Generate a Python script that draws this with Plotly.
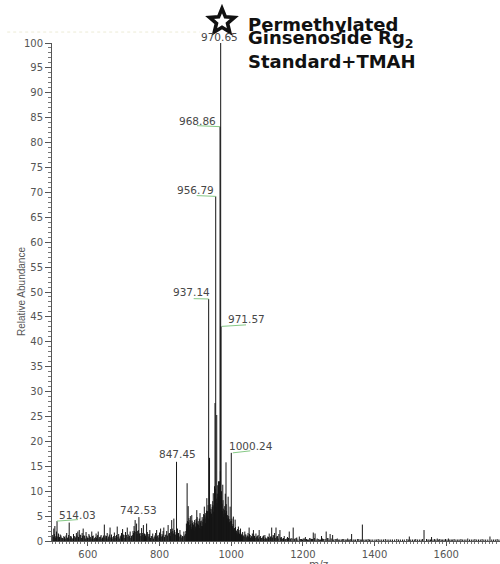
import math
import plotly.graph_objects as go

# ---------------- data ----------------
# main peaks
MZ = [
    502, 505, 508, 511, 514.03, 518, 521, 525, 529, 533, 537, 541, 545, 548, 552, 556, 560, 564, 568,
    572, 576, 580, 584, 587, 591, 595, 599, 603, 607, 611, 615, 619, 623, 626, 629, 633, 637, 641, 646,
    650, 654, 658, 662, 666, 670, 674, 678, 682, 686, 690, 694, 697, 701, 705, 710, 714, 718, 722, 726,
    729, 732, 736, 739, 742.53, 746, 750, 755, 758, 761, 764, 768, 773, 777, 781, 785, 789, 792, 796,
    800, 803, 807, 810, 812, 816, 820, 824, 828, 831, 834, 837, 840, 843, 847.45, 850, 853, 857, 860,
    864, 868, 872,
    875, 877, 880, 882, 884, 886, 888, 890, 892, 894, 896, 898, 900, 902, 904, 906, 908, 910, 913, 915,
    917, 919, 921, 923, 925, 927, 929, 932, 934, 935.5, 937.14, 939.5, 941, 943, 945, 947, 948.5, 950,
    952, 953.5, 954.8, 956.79, 958, 959.6, 961, 962.5, 964.5, 966, 967.5, 968.86, 970.65, 971.57, 973,
    974.5, 976.5, 978, 980, 982, 983.5, 985.5, 987, 989, 991.5, 993, 995, 997, 998.5, 1000.24, 1002,
    1004, 1006, 1008,
    1011, 1013, 1016, 1018, 1020, 1023, 1026, 1029, 1032, 1035, 1038, 1041, 1044, 1047, 1050, 1053,
    1056, 1059, 1062, 1065, 1069, 1072, 1075, 1078, 1082, 1086, 1090, 1094, 1098, 1102, 1106, 1110,
    1113, 1117, 1121, 1125, 1129, 1133, 1136, 1140, 1144, 1148, 1152, 1157, 1162, 1167, 1173, 1178,
    1183, 1190, 1196, 1201, 1207, 1213, 1219, 1224, 1229, 1234, 1240, 1246, 1252, 1258, 1265, 1270,
    1276, 1283, 1290, 1296, 1303, 1310, 1318, 1325, 1331, 1336, 1343, 1352, 1360, 1366, 1374, 1382,
    1390, 1401, 1410, 1420, 1430, 1440, 1450, 1462, 1472, 1483, 1490, 1497, 1506, 1515, 1525, 1538,
    1545, 1552, 1559, 1567, 1575, 1582, 1590, 1598, 1606, 1614, 1622, 1632, 1641, 1650, 1660, 1670,
    1680, 1690, 1700, 1710, 1722, 1732, 1742,
]
INTENSITY = [
    1.2, 2.5, 3.0, 1.0, 4.0, 1.5, 0.8, 1.1, 0.6, 1.0, 0.5, 1.6, 0.8, 3.7, 1.0, 0.6, 1.4, 0.9, 1.6,
    1.9, 2.2, 1.2, 1.6, 2.5, 1.0, 1.8, 0.7, 1.4, 0.8, 1.9, 1.1, 0.6, 1.5, 1.0, 1.9, 0.8, 1.2, 0.7, 3.3,
    1.1, 1.6, 0.9, 2.7, 1.3, 0.8, 1.7, 1.0, 2.9, 1.4, 0.9, 1.6, 2.4, 1.2, 1.8, 2.7, 1.3, 1.9, 1.0, 2.0,
    3.0, 4.2, 3.5, 2.0, 4.8, 1.6, 2.6, 3.2, 1.5, 1.1, 3.5, 1.4, 2.2, 1.0, 1.5, 0.8, 1.6, 2.2, 1.2,
    1.7, 2.5, 1.4, 2.0, 2.7, 1.2, 2.0, 3.2, 1.6, 2.4, 4.2, 2.0, 4.5, 1.8, 15.9, 2.5, 1.6, 2.2, 1.2,
    1.0, 1.9, 1.4,
    3.5, 11.6, 7.0, 4.6, 3.2, 5.0, 2.8, 5.2, 3.6, 2.6, 3.8, 4.2, 2.9, 4.4, 6.2, 3.5, 4.0, 3.1, 5.6, 4.0,
    3.0, 4.8, 3.8, 5.4, 6.9, 4.5, 5.6, 8.6, 6.0, 7.2, 48.6, 16.7, 6.5, 7.4, 5.5, 6.8, 8.0, 9.6,
    7.0, 11.0, 27.7, 69.2, 8.5, 25.3, 9.5, 11.2, 12.0, 9.0, 12.0, 83.2, 100.0, 43.1, 10.0,
    7.5, 11.3, 6.5, 5.5, 7.0, 9.5, 15.8, 6.0, 4.5, 8.9, 5.0, 3.8, 6.9, 4.0, 17.7, 4.5,
    3.0, 4.9, 2.5,
    4.3, 2.0, 1.5, 2.4, 2.9, 1.4, 2.5, 1.2, 1.8, 1.0, 1.9, 1.3, 0.9, 1.6, 2.7, 1.2,
    0.8, 1.5, 2.2, 1.0, 1.5, 0.7, 1.2, 2.2, 1.0, 0.6, 1.1, 1.2, 0.5, 0.9, 1.5, 0.8,
    2.7, 1.2, 1.6, 2.7, 1.0, 1.4, 2.2, 0.8, 0.5, 1.0, 0.4, 0.8, 1.9, 0.6, 2.7, 0.5,
    0.7, 0.9, 0.4, 0.5, 0.8, 0.3, 0.6, 0.4, 1.7, 1.5, 0.5, 0.3, 1.0, 0.4, 1.9, 0.6,
    1.4, 1.2, 0.4, 0.5, 0.3, 0.4, 0.3, 0.5, 0.3, 1.4, 0.3, 0.4, 0.3, 3.3, 0.3, 0.4,
    0.3, 0.3, 0.4, 0.3, 0.4, 0.3, 0.3, 0.4, 0.3, 0.3, 0.4, 0.9, 0.3, 0.4, 0.3, 2.2,
    0.4, 0.3, 0.8, 0.4, 0.5, 0.4, 0.3, 0.4, 0.5, 0.3, 0.4, 0.3, 0.4, 0.3, 0.5, 0.3,
    0.4, 0.3, 0.4, 0.3, 0.9, 0.3, 0.4,
]
# smaller peaks that fill the dense baseline
MZ_MINOR = [
    503.5, 506.5, 509.5, 512.5, 516, 519.5, 523, 527, 531, 535, 539, 543, 546.5, 550, 554, 558, 562,
    566, 570, 574, 578, 582, 585.5, 589, 593, 597, 601, 605, 609, 613, 617, 621, 624.5, 627.5, 631,
    635, 639, 643.5, 648, 652, 656, 660, 664, 668, 672, 676, 680, 684, 688, 692, 695.5, 699, 703,
    707.5, 712, 716, 720, 724, 727.5, 730.5, 734, 737.5, 741, 744, 748, 752, 753.5, 757, 759.5, 762.5,
    766, 770, 771.5, 775, 779, 783, 787, 790.5, 794, 798, 801.5, 805, 808.5, 814, 818, 822, 826, 830,
    832.5, 835.5, 838.5, 842, 845, 849, 851.5, 855, 859, 862, 866, 870, 873.5,
    876, 878, 879, 881, 883, 885, 887, 889, 891, 893, 895, 897, 899, 901, 903, 905, 907, 909, 911,
    912, 914, 916, 918, 920, 922, 924, 926, 928, 930, 931, 933, 936, 938, 940, 942, 944, 946, 949,
    951, 955.8, 957.5, 960.3, 963.5, 965.2, 969.8, 972, 975.5, 977.2, 979, 981, 984.5, 986.2, 988,
    990, 992.2, 994, 996, 999.5, 1001, 1003, 1005, 1007, 1009, 1010, 1012, 1014, 1015, 1017, 1019,
    1021, 1022, 1024, 1025, 1027, 1028, 1030, 1031, 1033, 1036, 1039, 1042, 1045, 1048, 1051, 1054,
    1057, 1060, 1063, 1067, 1070, 1073, 1076, 1080, 1084, 1088, 1092, 1096, 1100, 1104, 1108, 1111,
    1115, 1119, 1123, 1127, 1131, 1138, 1142, 1146, 1150, 1155, 1160, 1165, 1170, 1176, 1181, 1186,
    1193, 1199, 1204, 1210, 1216, 1222, 1227, 1232, 1237, 1243, 1249, 1255, 1262, 1268, 1273, 1279,
    1286, 1293, 1300, 1307, 1314, 1321, 1328, 1334, 1340, 1347, 1356, 1363, 1370, 1378, 1386, 1395,
    1405, 1415, 1425, 1435, 1445, 1456, 1467, 1478, 1494, 1501, 1511, 1520, 1530, 1534, 1549, 1556,
    1563, 1571, 1579, 1586, 1594, 1602, 1610, 1618, 1627, 1636, 1645, 1655, 1665, 1675, 1685, 1695,
    1705, 1716, 1727, 1737, 1747,
]
INTENSITY_MINOR = [
    0.8, 1.4, 0.7, 1.9, 0.9, 0.6, 1.3, 0.7, 0.5, 0.8, 1.1, 0.6, 1.2, 0.5, 0.9, 0.4, 1.0,
    0.7, 1.1, 0.8, 1.3, 0.6, 1.0, 1.2, 0.5, 1.0, 0.6, 1.1, 0.5, 1.0, 0.4, 0.8, 0.6, 1.2, 0.5,
    0.9, 0.5, 1.1, 0.7, 1.0, 0.5, 1.3, 0.7, 0.5, 1.0, 0.6, 1.2, 0.8, 0.5, 1.1, 0.7, 1.3, 0.6,
    1.2, 0.8, 1.0, 0.6, 1.2, 1.6, 2.0, 1.8, 1.4, 2.2, 1.5, 1.0, 1.6, 1.2, 0.8, 1.4, 0.7,
    1.8, 0.9, 1.4, 0.6, 1.0, 0.5, 1.1, 0.8, 1.0, 0.7, 1.3, 0.9, 1.1, 0.8, 1.3, 1.1, 1.5, 1.0,
    1.8, 2.5, 1.5, 2.2, 1.3, 1.0, 1.5, 0.9, 1.3, 0.7, 0.9, 1.1, 2.0,
    2.5, 4.0, 3.0, 3.8, 2.2, 4.2, 3.4, 2.4, 4.1, 2.8, 3.3, 2.1, 3.6, 2.5, 3.9, 4.8, 2.7, 3.3, 4.5,
    2.6, 3.7, 2.4, 4.1, 3.0, 4.4, 3.3, 5.2, 3.6, 4.9, 6.1, 5.0, 4.5, 6.0, 5.5, 5.8, 6.4, 4.8, 7.2,
    5.9, 10.5, 6.8, 7.6, 8.8, 10.8, 14.0, 9.0, 6.0, 8.2, 4.8, 6.2, 5.6, 7.4, 3.9,
    5.2, 4.6, 3.5, 4.4, 3.0, 4.0, 2.7, 3.4, 2.2, 2.6, 1.8, 2.8, 1.6, 2.1, 1.3, 1.8,
    1.6, 2.2, 1.1, 1.7, 1.5, 1.0, 1.4, 0.9, 1.2, 0.8, 1.3, 0.7, 1.1, 0.9, 1.4, 0.6,
    1.0, 0.7, 1.3, 0.6, 0.9, 1.0, 0.5, 0.8, 0.6, 0.9, 0.4, 0.7, 0.5, 0.8, 0.6, 1.0,
    0.7, 1.1, 0.6, 0.9, 0.5, 0.7, 0.4, 0.6, 0.3, 0.5, 0.6, 0.4, 0.5, 0.4, 0.6, 0.3,
    0.4, 0.3, 0.5, 0.4, 0.3, 0.5, 0.4, 0.6, 0.3, 0.4, 0.3, 0.5, 0.4, 0.6, 0.3, 0.5,
    0.3, 0.4, 0.3, 0.3, 0.4, 0.3, 0.3, 0.4, 0.3, 0.3, 0.4, 0.3, 0.3, 0.3, 0.3, 0.3,
    0.3, 0.3, 0.3, 0.3, 0.3, 0.3, 0.3, 0.3, 0.3, 0.3, 0.3, 0.3, 0.3, 0.4, 0.3, 0.3,
    0.3, 0.3, 0.3, 0.3, 0.3, 0.3, 0.3, 0.3, 0.3, 0.3, 0.3, 0.3, 0.3, 0.3, 0.3, 0.3,
    0.3, 0.3, 0.3, 0.3, 0.3,
]
LABEL_MZ = [970.65, 968.86, 956.79, 937.14, 971.57, 1000.24, 847.45, 742.53, 514.03]
LABEL_TEXT = ["970.65", "968.86", "956.79", "937.14", "971.57", "1000.24", "847.45", "742.53", "514.03"]
TITLE_LINES = ["Permethylated", "Ginsenoside Rg<sub>2</sub>", "Standard+TMAH"]
X_TITLE = "m/z"
Y_TITLE = "Relative Abundance"

# ---------------- style / layout (pixel offsets of labels & leader lines) ----------------
LABEL_STYLE = {
    970.65: dict(dx=-1, dy=6.5, lead=None),
    968.86: dict(dx=-23, dy=5.5, lead=(-23, 1.0, 0, 0)),
    956.79: dict(dx=-20, dy=6.0, lead=(-19, 0.8, 0, 0)),
    937.14: dict(dx=-17, dy=6.5, lead=(-15, 0.3, 0, 0)),
    971.57: dict(dx=25, dy=7.0, lead=(1, 0, 25, 1.5)),
    1000.24: dict(dx=20, dy=7.0, lead=(1.5, 0, 19, 2.0)),
    847.45: dict(dx=0.5, dy=7.5, lead=None),
    742.53: dict(dx=0, dy=7.5, lead=None),
    514.03: dict(dx=20, dy=6.5, lead=(0, 0, 21, 1.5)),
}

all_mz = MZ + MZ_MINOR
all_int = INTENSITY + INTENSITY_MINOR
xs, ys = [], []
for m, h in zip(all_mz, all_int):
    xs += [m, m, None]
    ys += [0, h, None]

fig = go.Figure()
fig.add_trace(go.Scatter(x=xs, y=ys, mode="lines",
                         line=dict(color="#151515", width=1),
                         hoverinfo="skip", showlegend=False))

peak_h = dict(zip(MZ, INTENSITY))
annotations = []
shapes = []
lab_font = dict(family="DejaVu Sans, sans-serif", size=10.5, color="#474747")
for m, t in zip(LABEL_MZ, LABEL_TEXT):
    st = LABEL_STYLE[m]
    h = peak_h[m]
    annotations.append(dict(x=m, y=h, xref="x", yref="y", text=t, showarrow=False,
                            xanchor="center", yanchor="middle",
                            xshift=st["dx"], yshift=st["dy"], font=lab_font))
    if st["lead"] is not None:
        x0, y0, x1, y1 = st["lead"]
        shapes.append(dict(type="line", xref="x", yref="y",
                           xsizemode="pixel", ysizemode="pixel",
                           xanchor=m, yanchor=h, x0=x0, y0=y0, x1=x1, y1=y1,
                           line=dict(color="#86c986", width=1)))

# faint dotted line at the top-left of the picture
shapes.append(dict(type="line", xref="paper", yref="paper",
                   x0=-0.10, x1=0.33, y0=1.022, y1=1.022,
                   line=dict(color="#ecebd6", width=1, dash="dot")))

# outlined star next to the title (pixel-sized path)
R_OUT, R_IN = 13.0, 5.8
pts = []
for k in range(10):
    ang = math.radians(90 + 36 * k)
    r = R_OUT if k % 2 == 0 else R_IN
    pts.append((r * math.cos(ang), r * math.sin(ang)))
star_path = "M " + " L ".join(f"{px:.2f},{py:.2f}" for px, py in pts) + " Z"
shapes.append(dict(type="path", xref="paper", yref="paper",
                   xsizemode="pixel", ysizemode="pixel",
                   xanchor=(222 - 52) / 448, yanchor=(541 - 21.5) / 498,
                   path=star_path, line=dict(color="#111111", width=3.6),
                   fillcolor="rgba(0,0,0,0)"))

# title block
title_font = dict(family="DejaVu Sans, sans-serif", size=18, color="#111111", weight="bold")
for txt, ypx in zip(TITLE_LINES, [24.5, 39.5, 61.5]):
    annotations.append(dict(xref="paper", yref="paper",
                            x=(246 - 52) / 448, y=(541 - ypx) / 498,
                            xanchor="left", yanchor="middle", text=txt,
                            showarrow=False, font=title_font, align="left"))

axis_font = dict(family="DejaVu Sans, sans-serif", size=10, color="#555555")
annotations.append(dict(xref="paper", yref="paper", x=(319 - 52) / 448, y=-(556 - 541) / 498,
                        xanchor="center", yanchor="top", text=X_TITLE, showarrow=False,
                        font=dict(family="DejaVu Sans, sans-serif", size=10.5, color="#555555")))
annotations.append(dict(xref="paper", yref="paper", x=(21 - 52) / 448, y=0.5,
                        xanchor="center", yanchor="middle", text=Y_TITLE, showarrow=False,
                        textangle=-90,
                        font=dict(family="Liberation Sans, Arial, sans-serif", size=10, color="#555555")))

fig.update_layout(
    width=500, height=564,
    margin=dict(l=52, r=0, t=43, b=23),
    paper_bgcolor="white", plot_bgcolor="white",
    showlegend=False,
    annotations=annotations,
    shapes=shapes,
    xaxis=dict(range=[500, 1750], dtick=200, tick0=0, showgrid=False, zeroline=False,
               showline=True, linecolor="#555555", linewidth=1,
               ticks="outside", ticklen=4, tickcolor="#555555",
               tickfont=axis_font,
               minor=dict(dtick=10, ticklen=2, ticks="outside", tickcolor="#777777", showgrid=False)),
    yaxis=dict(range=[0, 100], dtick=5, showgrid=False, zeroline=False,
               showline=True, linecolor="#555555", linewidth=1,
               ticks="outside", ticklen=6, tickcolor="#555555",
               tickfont=axis_font,
               minor=dict(dtick=1, ticklen=3, ticks="outside", tickcolor="#777777", showgrid=False)),
)

fig.write_html("out.html")
